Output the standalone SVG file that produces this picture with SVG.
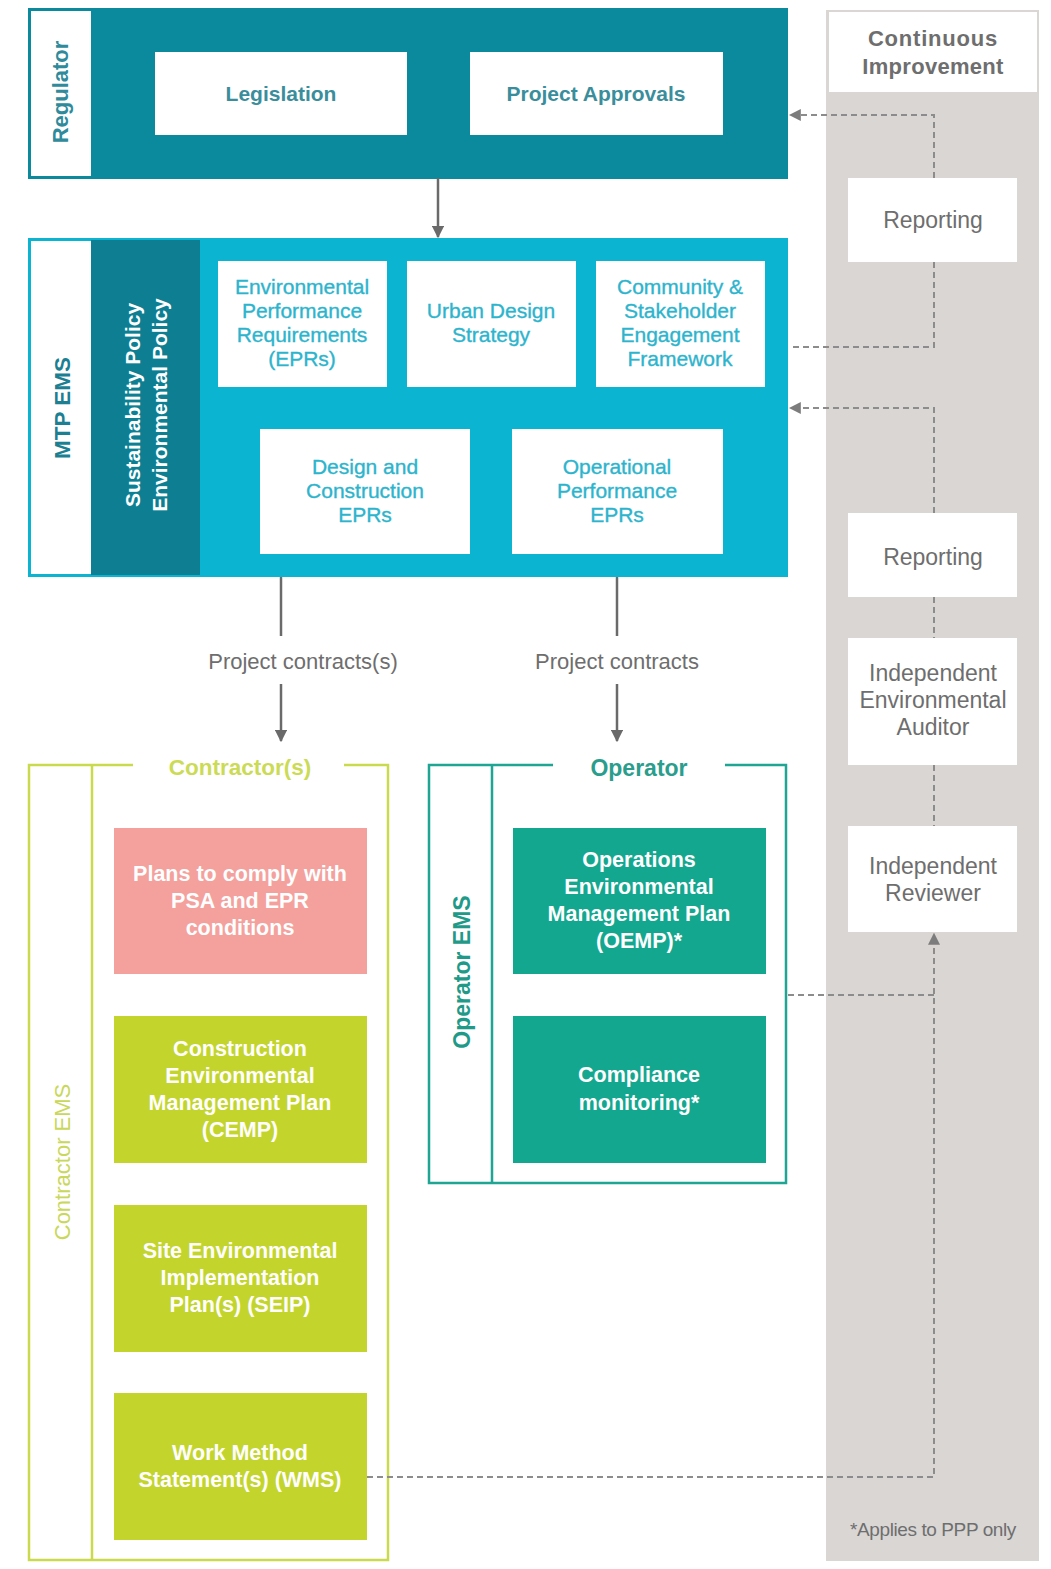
<svg xmlns="http://www.w3.org/2000/svg" width="1051" height="1569" viewBox="0 0 1051 1569">
<style>
text{font-family:"Liberation Sans",Arial,sans-serif;text-anchor:middle}
.g{fill:#6e6e6e;font-size:23px}
.cy{fill:#2db4cd;font-size:21px;stroke:#2db4cd;stroke-width:0.35}
.tl{fill:#3a8e9c;font-size:21px;font-weight:bold}
.wh{fill:#ffffff;font-size:21.5px;font-weight:bold}
.gbox{fill:#ffffff}
.solid{stroke:#6a6a6a;stroke-width:2.5;fill:none}
.dash{stroke:#8c8c8c;stroke-width:2;stroke-dasharray:6 4;fill:none}
</style>
<defs>
<marker id="ah" viewBox="0 0 10 10" refX="9" refY="5" markerWidth="5" markerHeight="5" orient="auto"><path d="M0,0 L10,5 L0,10 z" fill="#6a6a6a"/></marker>
<marker id="ahd" viewBox="0 0 10 10" refX="9" refY="5" markerWidth="6" markerHeight="6" orient="auto"><path d="M0,0 L10,5 L0,10 z" fill="#7c7c7c"/></marker>
</defs>
<rect width="1051" height="1569" fill="#ffffff"/>

<!-- Continuous improvement column -->
<g id="continuous-improvement">
<rect x="826" y="10" width="213" height="1551" fill="#d9d6d4"/>
<rect x="829" y="12" width="208" height="80" fill="#ffffff"/>
<text x="933" y="46" style="fill:#6e6e6e;font-size:22px;font-weight:bold;letter-spacing:0.8px">Continuous</text>
<text x="933" y="74" style="fill:#6e6e6e;font-size:22px;font-weight:bold;letter-spacing:0.3px">Improvement</text>
<text x="933" y="1536" style="fill:#6e6e6e;font-size:19px;letter-spacing:-0.4px">*Applies to PPP only</text>
</g>
<g id="reporting-1"><rect x="848" y="178" width="169" height="84" class="gbox"/><text class="g" x="933" y="228">Reporting</text></g>
<g id="reporting-2"><rect x="848" y="513" width="169" height="84" class="gbox"/><text class="g" x="933" y="565">Reporting</text></g>
<g id="auditor"><rect x="848" y="638" width="169" height="127" class="gbox"/>
<text class="g" x="933" y="681">Independent</text><text class="g" x="933" y="708">Environmental</text><text class="g" x="933" y="735">Auditor</text></g>
<g id="reviewer"><rect x="848" y="826" width="169" height="106" class="gbox"/>
<text class="g" x="933" y="874">Independent</text><text class="g" x="933" y="901">Reviewer</text></g>

<!-- Regulator -->
<g id="regulator">
<rect x="29" y="9" width="758" height="169" fill="#0b8a9d" stroke="#0b8a9d" stroke-width="2"/>
<rect x="31" y="11" width="60" height="165" fill="#ffffff"/>
<text transform="translate(68,92) rotate(-90)" style="fill:#2f8b9b;font-size:22px;font-weight:bold">Regulator</text>
</g>
<g id="legislation"><rect x="155" y="52" width="252" height="83" fill="#ffffff"/><text class="tl" x="281" y="101">Legislation</text></g>
<g id="project-approvals"><rect x="470" y="52" width="253" height="83" fill="#ffffff"/><text class="tl" x="596" y="101">Project Approvals</text></g>

<!-- MTP EMS -->
<g id="mtp-ems">
<rect x="29" y="239" width="758" height="337" fill="#0bb5d2" stroke="#0bb5d2" stroke-width="2"/>
<rect x="91" y="240" width="109" height="335" fill="#0e7f93"/>
<rect x="31" y="241" width="60" height="333" fill="#ffffff"/>
<text transform="translate(70,408) rotate(-90)" style="fill:#1c7f92;font-size:22.5px;font-weight:bold">MTP EMS</text>
<text transform="translate(140,405) rotate(-90)" style="fill:#ffffff;font-size:21px;font-weight:bold">Sustainability Policy</text>
<text transform="translate(167,405) rotate(-90)" style="fill:#ffffff;font-size:21px;font-weight:bold">Environmental Policy</text>
</g>
<g id="eprs"><rect x="218" y="261" width="169" height="126" fill="#ffffff"/>
<text class="cy" x="302" y="294">Environmental</text><text class="cy" x="302" y="318">Performance</text><text class="cy" x="302" y="342">Requirements</text><text class="cy" x="302" y="366">(EPRs)</text></g>
<g id="urban-design"><rect x="407" y="261" width="169" height="126" fill="#ffffff"/>
<text class="cy" x="491" y="318">Urban Design</text><text class="cy" x="491" y="342">Strategy</text></g>
<g id="community"><rect x="596" y="261" width="169" height="126" fill="#ffffff"/>
<text class="cy" x="680" y="294">Community &amp;</text><text class="cy" x="680" y="318">Stakeholder</text><text class="cy" x="680" y="342">Engagement</text><text class="cy" x="680" y="366">Framework</text></g>
<g id="design-construction-eprs"><rect x="260" y="429" width="210" height="125" fill="#ffffff"/>
<text class="cy" x="365" y="474">Design and</text><text class="cy" x="365" y="498">Construction</text><text class="cy" x="365" y="522">EPRs</text></g>
<g id="operational-eprs"><rect x="512" y="429" width="211" height="125" fill="#ffffff"/>
<text class="cy" x="617" y="474">Operational</text><text class="cy" x="617" y="498">Performance</text><text class="cy" x="617" y="522">EPRs</text></g>

<!-- Contractor -->
<g id="contractor">
<path d="M133,765 L29,765 L29,1560 L388,1560 L388,765 L344,765" fill="none" stroke="#c9da4c" stroke-width="2.5"/>
<line x1="92" y1="765" x2="92" y2="1560" stroke="#c9da4c" stroke-width="2.5"/>
<text x="240" y="775" style="fill:#cbdb55;font-size:22.5px;font-weight:bold">Contractor(s)</text>
<text transform="translate(70,1162) rotate(-90)" style="fill:#c9d75a;font-size:22px">Contractor EMS</text>
</g>
<g id="plans"><rect x="114" y="828" width="253" height="146" fill="#f4a19d"/>
<text class="wh" x="240" y="881">Plans to comply with</text><text class="wh" x="240" y="908">PSA and EPR</text><text class="wh" x="240" y="935">conditions</text></g>
<g id="cemp"><rect x="114" y="1016" width="253" height="147" fill="#c3d52c"/>
<text class="wh" x="240" y="1056">Construction</text><text class="wh" x="240" y="1083">Environmental</text><text class="wh" x="240" y="1110">Management Plan</text><text class="wh" x="240" y="1137">(CEMP)</text></g>
<g id="seip"><rect x="114" y="1205" width="253" height="147" fill="#c3d52c"/>
<text class="wh" x="240" y="1258">Site Environmental</text><text class="wh" x="240" y="1285">Implementation</text><text class="wh" x="240" y="1312">Plan(s) (SEIP)</text></g>
<g id="wms"><rect x="114" y="1393" width="253" height="147" fill="#c3d52c"/>
<text class="wh" x="240" y="1460">Work Method</text><text class="wh" x="240" y="1487">Statement(s) (WMS)</text></g>

<!-- Operator -->
<g id="operator">
<path d="M553,765 L429,765 L429,1183 L786,1183 L786,765 L725,765" fill="none" stroke="#1fa594" stroke-width="2.5"/>
<line x1="492" y1="765" x2="492" y2="1183" stroke="#1fa594" stroke-width="2.5"/>
<text x="639" y="776" style="fill:#2a9d8d;font-size:23px;font-weight:bold">Operator</text>
<text transform="translate(470,972) rotate(-90)" style="fill:#1f9a89;font-size:23px;font-weight:bold">Operator EMS</text>
</g>
<g id="oemp"><rect x="513" y="828" width="253" height="146" fill="#14a78f"/>
<text class="wh" x="639" y="867">Operations</text><text class="wh" x="639" y="894">Environmental</text><text class="wh" x="639" y="921">Management Plan</text><text class="wh" x="639" y="948">(OEMP)*</text></g>
<g id="compliance"><rect x="513" y="1016" width="253" height="147" fill="#14a78f"/>
<text class="wh" x="639" y="1082">Compliance</text><text class="wh" x="639" y="1110">monitoring*</text></g>

<!-- Connectors -->
<g id="connectors">
<line class="solid" x1="438" y1="178" x2="438" y2="237" marker-end="url(#ah)"/>
<line class="solid" x1="281" y1="577" x2="281" y2="636"/>
<line class="solid" x1="281" y1="684" x2="281" y2="741" marker-end="url(#ah)"/>
<line class="solid" x1="617" y1="577" x2="617" y2="636"/>
<line class="solid" x1="617" y1="684" x2="617" y2="741" marker-end="url(#ah)"/>
<text x="303" y="669" style="fill:#6e6e6e;font-size:22px">Project contracts(s)</text>
<text x="617" y="669" style="fill:#6e6e6e;font-size:22px">Project contracts</text>

<path class="dash" d="M934,178 L934,115 L790,115" marker-end="url(#ahd)"/>
<path class="dash" d="M934,262 L934,347 L790,347"/>
<path class="dash" d="M934,513 L934,408 L790,408" marker-end="url(#ahd)"/>
<line class="dash" x1="934" y1="597" x2="934" y2="638"/>
<line class="dash" x1="934" y1="765" x2="934" y2="826"/>
<path class="dash" d="M367,1477 L934,1477 L934,934" marker-end="url(#ahd)"/>
<line class="dash" x1="788" y1="995" x2="934" y2="995"/>
</g>
</svg>
